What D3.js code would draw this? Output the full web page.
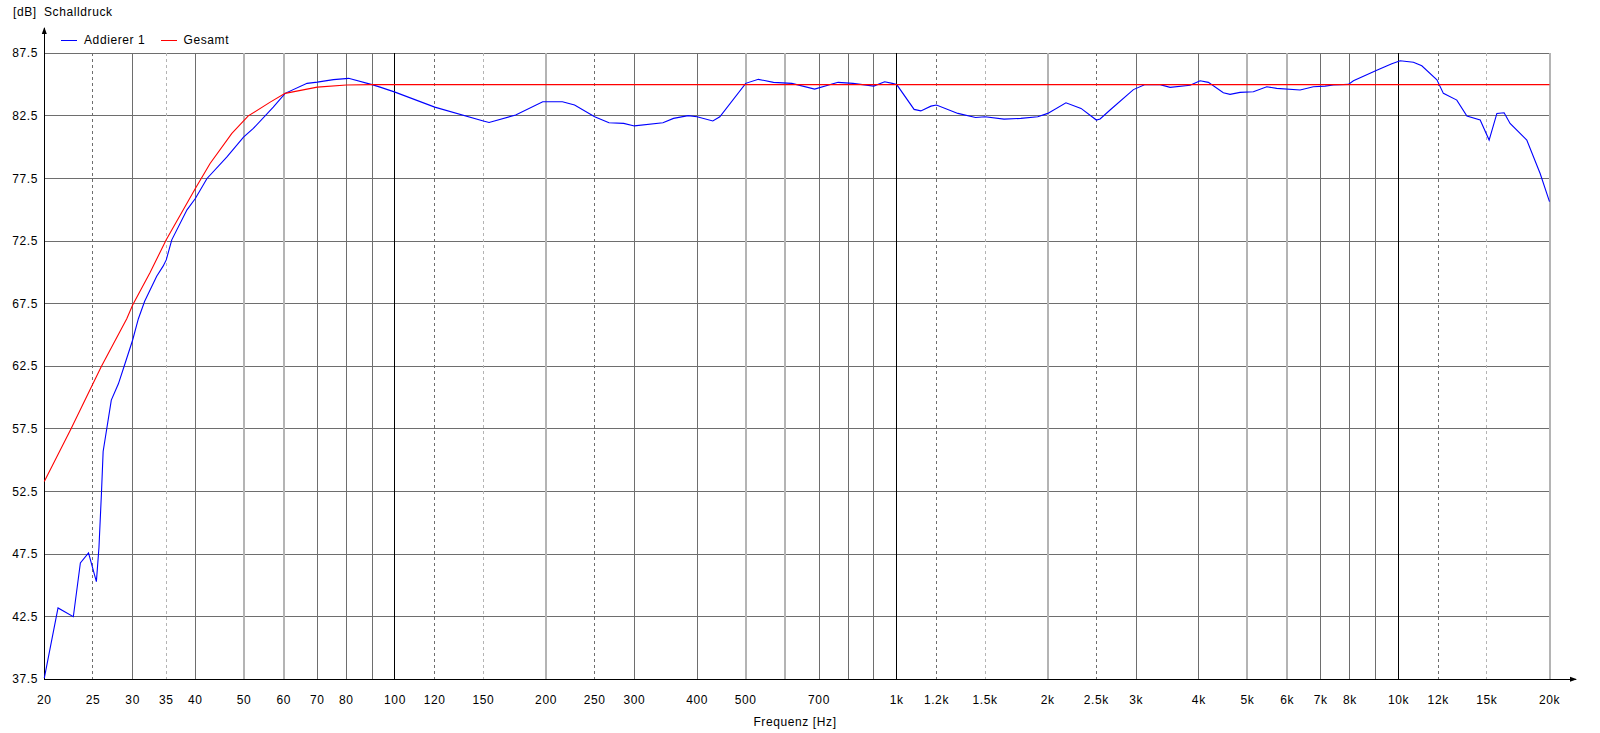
<!DOCTYPE html>
<html><head><meta charset="utf-8">
<script src="https://cdn.jsdelivr.net/npm/d3@7"></script>
<style>
body{margin:0;background:#fff}
svg{display:block}
text{font-family:"Liberation Sans",Arial,sans-serif;font-size:12px;letter-spacing:0.6px;fill:#000}
</style>
</head><body>
<svg id="c" width="1600" height="733"></svg>
<script>
// ---------- data ----------
const gridFreqs = [25,30,35,40,50,60,70,80,90,100,120,150,200,250,300,400,500,600,700,800,900,
  1000,1200,1500,2000,2500,3000,4000,5000,6000,7000,8000,9000,10000,12000,15000,20000];
const dashedFreqs = [25,35,120,150,250,1200,1500,2500,12000,15000];
const boldFreqs = [100,1000,10000];
const tickFreqs = [20,25,30,35,40,50,60,70,80,100,120,150,200,250,300,400,500,700,
  1000,1200,1500,2000,2500,3000,4000,5000,6000,7000,8000,10000,12000,15000,20000];
const tickLabels = ["20","25","30","35","40","50","60","70","80","100","120","150","200","250","300","400","500","700",
  "1k","1.2k","1.5k","2k","2.5k","3k","4k","5k","6k","7k","8k","10k","12k","15k","20k"];
const yTicks = [37.5,42.5,47.5,52.5,57.5,62.5,67.5,72.5,77.5,82.5,87.5];
const yTickLabels = ["37.5","42.5","47.5","52.5","57.5","62.5","67.5","72.5","77.5","82.5","87.5"];

const seriesNames = ["Addierer 1","Gesamt"];
const seriesColors = ["#0000ff","#ff0000"];

const blueFreq = [20,21.3,22.85,23.6,24.5,25.4,25.7,26.0,26.2,27.2,28.1,28.96,30.0,30.8,31.7,33.5,34.5,35.0,35.9,38.5,40,
  42.2,46.2,49.9,52.2,57.2,60.4,66.8,70,75.4,80.8,90,93.4,100,120,150,154,174,197,215.6,228,250,267,285.6,300,
  342,359,384,400,430,444,500,530,568,618,686,764,818,900,946,980,1000,1083,1117,1170,1200,1324,1436,1500,
  1636,1767,1910,2000,2174,2330,2500,2543,2662,2963,3126,3350,3506,3844,4024,4180,4477,4617,4834,5138,5464,
  5720,6368,6766,7140,7418,7948,8133,9052,9700,10078,10710,11130,11930,12290,13070,13690,14550,15160,
  15710,16240,16690,18020,19160,20000];
const blueDb = [37.6,43.2,42.5,46.8,47.6,45.3,48.0,52.4,55.7,59.8,61.1,62.7,64.6,66.3,67.7,69.7,70.5,71.0,72.6,75.0,75.9,
  77.5,79.2,80.8,81.5,83.2,84.3,85.1,85.2,85.4,85.5,85.0,84.8,84.4,83.2,82.1,81.97,82.57,83.63,83.63,83.37,82.43,81.95,81.9,81.7,
  81.95,82.3,82.52,82.43,82.1,82.43,85.1,85.42,85.18,85.1,84.64,85.18,85.1,84.88,85.23,85.1,85.0,83.02,82.9,83.28,83.37,82.7,82.37,82.43,
  82.24,82.3,82.43,82.7,83.55,83.1,82.17,82.25,82.97,84.6,85.0,85.0,84.78,84.95,85.31,85.18,84.35,84.22,84.38,84.43,84.83,
  84.7,84.57,84.83,84.88,84.97,85.02,85.31,86.15,86.66,86.9,86.79,86.5,85.38,84.3,83.76,82.49,82.17,80.57,
  82.7,82.75,81.9,80.57,77.9,75.65];

const redFreq = [20,22.6,25,26,29.2,30,32.5,35,40,42.8,47.3,51,56.4,60.4,70,80,90,100,20000];
const redDb = [53.3,57.5,61.1,62.5,66.3,67.4,70.0,72.6,76.7,78.7,81.1,82.5,83.6,84.3,84.8,84.97,85.0,85.0,85.0];

// ---------- drawing ----------
const svg = d3.select("#c");
const x = d3.scaleLog().domain([20,20000]).range([44.3,1549.5]);
const y = d3.scaleLinear().domain([37.5,87.5]).range([679.3,53.3]);

function mant(f){ return Math.round(f/Math.pow(10,Math.floor(Math.log10(f)+1e-9))*10)/10; }
const lightM = [2,5,6,1.5,3.5];

const grid = svg.append("g").attr("shape-rendering","crispEdges");
grid.selectAll("line.h").data(yTicks.slice(1)).join("line")
  .attr("x1",x(20)).attr("x2",x(20000)).attr("y1",d=>y(d)).attr("y2",d=>y(d))
  .attr("stroke","#6e6e6e").attr("stroke-width",1);
grid.selectAll("line.v").data(gridFreqs).join("line")
  .attr("x1",d=>x(d)).attr("x2",d=>x(d)).attr("y1",y(87.5)).attr("y2",y(37.5))
  .attr("stroke",d=> boldFreqs.includes(d) ? "#000" : (lightM.includes(mant(d)) ? "#b4b4b4" : "#6e6e6e"))
  .attr("stroke-width",d=> (!boldFreqs.includes(d) && lightM.includes(mant(d)) && !dashedFreqs.includes(d)) ? 2 : 1)
  .attr("stroke-dasharray",d=> dashedFreqs.includes(d) ? "3,3" : null);

const axes = svg.append("g").attr("shape-rendering","crispEdges");
axes.append("line").attr("x1",x(20)).attr("x2",x(20)).attr("y1",28).attr("y2",y(37.5)+0.5).attr("stroke","#000");
axes.append("line").attr("x1",x(20)).attr("x2",1576).attr("y1",y(37.5)).attr("y2",y(37.5)).attr("stroke","#000");
svg.append("path").attr("d",`M${x(20)},27 L${x(20)-2.5},34 L${x(20)+2.5},34 Z`).attr("fill","#000");
svg.append("path").attr("d",`M1577,${y(37.5)} L1570,${y(37.5)-2.5} L1570,${y(37.5)+2.5} Z`).attr("fill","#000");

svg.append("g").selectAll("text").data(tickFreqs).join("text")
  .attr("x",d=>x(d)).attr("y",700).attr("text-anchor","middle").attr("dominant-baseline","central")
  .text((d,i)=>tickLabels[i]);
svg.append("g").selectAll("text").data(yTicks).join("text")
  .attr("x",38).attr("y",d=>y(d)).attr("text-anchor","end").attr("dominant-baseline","central")
  .text((d,i)=>yTickLabels[i]);

svg.append("text").attr("x",13).attr("y",12).attr("dominant-baseline","central").text("[dB]");
svg.append("text").attr("x",44).attr("y",12).attr("dominant-baseline","central").text("Schalldruck");
svg.append("text").attr("x",795).attr("y",722).attr("text-anchor","middle").attr("dominant-baseline","central").text("Frequenz [Hz]");

const legX = [61,160.5];
seriesNames.forEach((n,i)=>{
  svg.append("line").attr("x1",legX[i]).attr("x2",legX[i]+16).attr("y1",40).attr("y2",40)
    .attr("stroke",seriesColors[i]).attr("stroke-width",1).attr("shape-rendering","crispEdges");
  svg.append("text").attr("x",legX[i]+23).attr("y",40).attr("dominant-baseline","central").text(n);
});

const line = d3.line().x(d=>x(d[0])).y(d=>y(d[1])).curve(d3.curveLinear);
svg.append("path").datum(blueFreq.map((f,i)=>[f,blueDb[i]]))
  .attr("d",line).attr("fill","none").attr("stroke",seriesColors[0]).attr("stroke-width",1.1);
svg.append("path").datum(redFreq.map((f,i)=>[f,redDb[i]]))
  .attr("d",line).attr("fill","none").attr("stroke",seriesColors[1]).attr("stroke-width",1.1);
</script>
</body></html>
